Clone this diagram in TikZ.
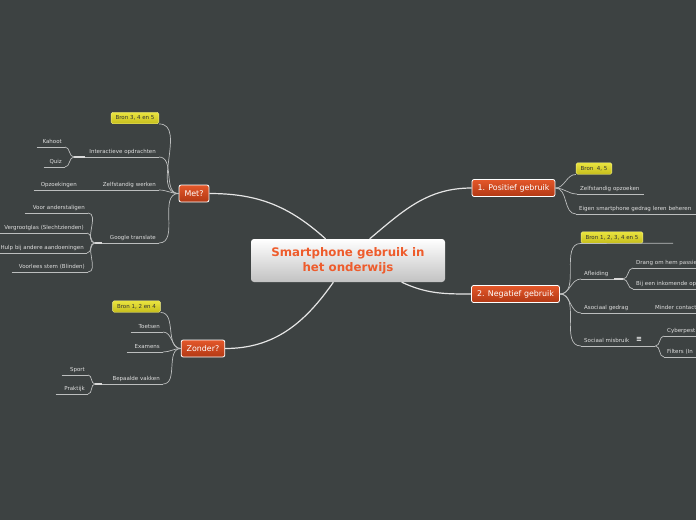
\documentclass[tikz,border=0pt]{standalone}
\usepackage{fontspec}
\setmainfont{DejaVu Sans}
\definecolor{board}{RGB}{61,66,66}
\definecolor{twiggray}{RGB}{188,190,190}
\definecolor{leaftext}{RGB}{222,222,222}
\definecolor{topictop}{RGB}{228,88,42}
\definecolor{topicbot}{RGB}{178,56,20}
\definecolor{hubtext}{RGB}{238,92,44}
\definecolor{bronlight}{RGB}{234,228,64}
\definecolor{brondark}{RGB}{198,190,28}

\begin{document}
\begin{tikzpicture}[x=1pt, y=-1pt,
    hub/.style={rounded corners=3pt, top color=white, bottom color=black!24,
      minimum width=194pt, minimum height=43pt, align=center, text=hubtext,
      font=\fontsize{11.8}{15}\selectfont\bfseries},
    topic/.style={draw=white, line width=0.8pt, rounded corners=2pt,
      top color=topictop, bottom color=topicbot, text=white,
      font=\fontsize{7.9}{9}\selectfont, minimum height=17pt, inner xsep=5.5pt},
    bron/.style={draw=bronlight!60!white, line width=0.4pt, rounded corners=1.5pt,
      top color=bronlight, bottom color=brondark, text=black!80,
      font=\fontsize{5.5}{6}\selectfont, minimum height=11.5pt, inner xsep=4.5pt, inner ysep=0pt},
    leaf/.style={text=leaftext, font=\fontsize{5.5}{6}\selectfont, inner xsep=3pt,
      inner ysep=2.5pt, text height=4pt, text depth=1.3pt,
      append after command={(\tikzlastnode.south west) edge[twig] (\tikzlastnode.south east)}},
    lleaf/.style={leaf, anchor=south east, align=right},
    rleaf/.style={leaf, anchor=south west, align=left},
    limb/.style={draw=white!90!black, line width=1.2pt},
    twig/.style={draw=twiggray, line width=0.7pt},
    knot/.style={draw=white!85!black, line width=1.4pt}
  ]

  % canvas
  \useasboundingbox (0,0) rectangle (696,520);
  \fill[board] (0,0) rectangle (696,520);
  \clip (0,0) rectangle (696,520);

  % central idea
  \node[hub] (hub) at (348,260.5) {Smartphone gebruik in\\het onderwijs};

  % main topics
  \node[topic] (met) at (194,193.5) {Met?};
  \node[topic] (zonder) at (203,348.5) {Zonder?};
  \node[topic] (pos) at (513.5,188) {1. Positief gebruik};
  \node[topic] (neg) at (515.5,294) {2. Negatief gebruik};

  \draw[limb] (met.east) to[out=0,in=138] (hub.136);
  \draw[limb] (zonder.east) to[out=0,in=235] (hub.236);
  \draw[limb] (pos.west) to[out=180,in=40] (hub.45);
  \draw[limb] (neg.west) to[out=180,in=-25] (hub.-22);

  % Met? branch
  \node[bron] (bron345) at (135,118) {Bron 3, 4 en 5};
  \node[lleaf, text width=68pt] (interactief) at (159,157) {Interactieve opdrachten};
  \node[lleaf, text width=73pt] (zelfwerk) at (159,190) {Zelfstandig werken};
  \node[lleaf, text width=51pt] (google) at (159,243) {Google translate};
  \draw[twig] (met.west) to[out=180,in=0] (bron345.south east);
  \draw[twig] (met.west) to[out=180,in=0] (interactief.south east);
  \draw[twig] (met.west) to[out=180,in=0] (zelfwerk.south east);
  \draw[twig] (met.west) to[out=180,in=0] (google.south east);

  % Interactieve opdrachten
  \coordinate (interknoop) at (74,157);
  \node[lleaf, text width=22pt] (kahoot) at (65,147) {Kahoot};
  \node[lleaf, text width=15pt] (quiz) at (65,167) {Quiz};
  \draw[knot] (interactief.south west) -- (interknoop);
  \draw[twig] (interknoop) to[out=180,in=0] (kahoot.south east);
  \draw[twig] (interknoop) to[out=180,in=0] (quiz.south east);

  % Zelfstandig werken
  \node[lleaf, text width=40pt] (opzoek) at (80,190) {Opzoekingen};
  \draw[twig] (zelfwerk.south west) -- (opzoek.south east);

  % Google translate
  \coordinate (googleknoop) at (95,243);
  \node[lleaf, text width=57pt] (anderstalig) at (88,213) {Voor anderstaligen};
  \node[lleaf, text width=92pt] (vergroot) at (87,233) {Vergrootglas (Slechtzienden)};
  \node[lleaf, text width=92pt] (hulp) at (87,253) {Hulp bij andere aandoeningen};
  \node[lleaf, text width=70pt] (voorlees) at (88,272) {Voorlees stem (Blinden)};
  \draw[knot] (google.south west) -- (googleknoop);
  \draw[twig] (googleknoop) to[out=180,in=0] (anderstalig.south east);
  \draw[twig] (googleknoop) to[out=180,in=0] (vergroot.south east);
  \draw[twig] (googleknoop) to[out=180,in=0] (hulp.south east);
  \draw[twig] (googleknoop) to[out=180,in=0] (voorlees.south east);

  % Zonder? branch
  \node[bron] (bron124) at (136.5,306.5) {Bron 1, 2 en 4};
  \node[lleaf, text width=26pt] (toetsen) at (163,332) {Toetsen};
  \node[lleaf, text width=30pt] (examens) at (163,352) {Examens};
  \node[lleaf, text width=55pt] (vakken) at (163,384) {Bepaalde vakken};
  \draw[twig] (zonder.west) to[out=180,in=0] (bron124.south east);
  \draw[twig] (zonder.west) to[out=180,in=0] (toetsen.south east);
  \draw[twig] (zonder.west) to[out=180,in=0] (examens.south east);
  \draw[twig] (zonder.west) to[out=180,in=0] (vakken.south east);

  % Bepaalde vakken
  \coordinate (vakknoop) at (95,384);
  \node[lleaf, text width=20pt] (sport) at (88,375) {Sport};
  \node[lleaf, text width=26pt] (praktijk) at (88,394) {Praktijk};
  \draw[knot] (vakken.south west) -- (vakknoop);
  \draw[twig] (vakknoop) to[out=180,in=0] (sport.south east);
  \draw[twig] (vakknoop) to[out=180,in=0] (praktijk.south east);

  % 1. Positief gebruik
  \node[bron] (bron45) at (594,168.5) {Bron~~4, 5};
  \node[rleaf, text width=61pt] (zelfopz) at (577,194) {Zelfstandig opzoeken};
  \node[rleaf, text width=124pt] (eigen) at (576,214) {Eigen smartphone gedrag leren beheren};
  \draw[twig] (pos.east) to[out=0,in=180] (bron45.south west);
  \draw[twig] (pos.east) to[out=0,in=180] (zelfopz.south west);
  \draw[twig] (pos.east) to[out=0,in=180] (eigen.south west);

  % 2. Negatief gebruik
  \node[bron] (bron12345) at (612,237.5) {Bron 1, 2, 3, 4 en 5};
  \coordinate (bronstaart) at (673,243.25);
  \node[rleaf, text width=27pt] (afleiding) at (581,279) {Afleiding};
  \node[rleaf, text width=65pt] (asociaal) at (581,313) {Asociaal gedrag};
  \node[rleaf, text width=68pt] (sociaal) at (581,346) {Sociaal misbruik};
  \draw[twig] (bron12345.south west) -- (bronstaart);
  \draw[twig] (neg.east) to[out=0,in=180] (bron12345.south west);
  \draw[twig] (neg.east) to[out=0,in=180] (afleiding.south west);
  \draw[twig] (neg.east) to[out=0,in=180] (asociaal.south west);
  \draw[twig] (neg.east) to[out=0,in=180] (sociaal.south west);

  % Afleiding
  \coordinate (afleidknoop) at (623,279);
  \node[rleaf, text width=67pt] (drang) at (633,268) {Drang om hem passie};
  \node[rleaf, text width=67pt] (inkomend) at (633,289) {Bij een inkomende op};
  \draw[knot] (afleiding.south east) -- (afleidknoop);
  \draw[twig] (afleidknoop) to[out=0,in=180] (drang.south west);
  \draw[twig] (afleidknoop) to[out=0,in=180] (inkomend.south west);

  % Asociaal gedrag
  \node[rleaf, text width=62pt] (minder) at (652,313) {Minder contact};
  \draw[twig] (asociaal.south east) -- (minder.south west);

  % Sociaal misbruik
  \node[text=white, font=\fontsize{7}{7}\selectfont\bfseries, inner sep=0pt] (notitie) at (639,339.5) {≡};
  \node[rleaf, text width=51pt] (cyber) at (664,336) {Cyberpest};
  \node[rleaf, text width=51pt] (filters) at (664,357) {Filters (In};
  \draw[twig] (sociaal.south east) to[out=0,in=180] (cyber.south west);
  \draw[twig] (sociaal.south east) to[out=0,in=180] (filters.south west);

\end{tikzpicture}
\end{document}
